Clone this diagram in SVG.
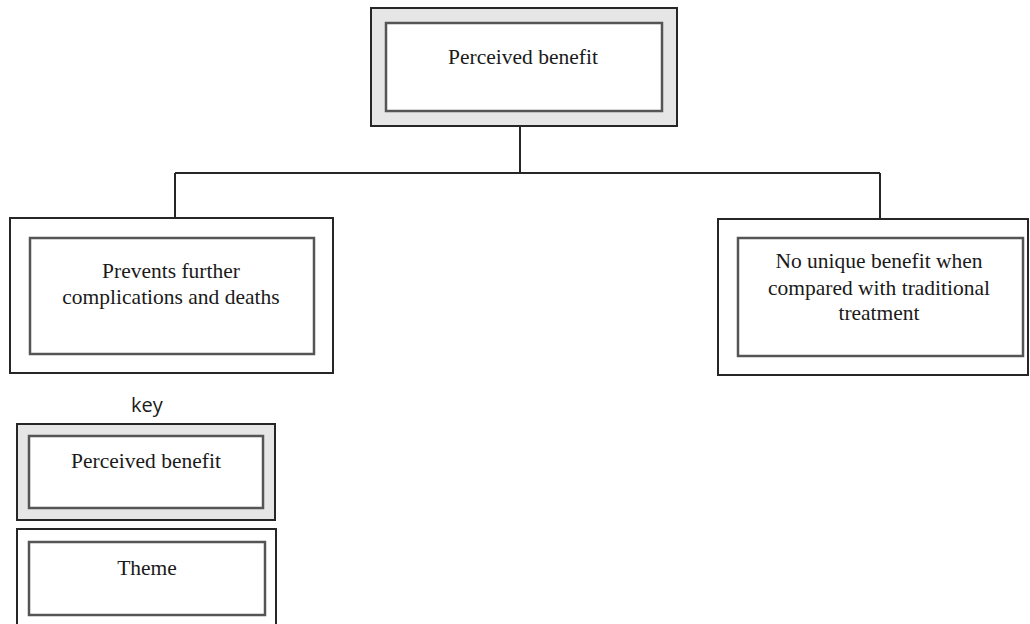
<svg xmlns="http://www.w3.org/2000/svg" width="1030" height="624" viewBox="0 0 1030 624">
<style>
.outer{fill:#ffffff;stroke:#262626;stroke-width:2}
.outer.pb{fill:#e6e6e6}
.inner{fill:#ffffff;stroke:#555555;stroke-width:2.5}
.t{font-family:"Liberation Serif","Times New Roman",serif;font-size:21.5px;fill:#1a1a1a;text-anchor:middle}
.k{font-family:"Open Sans","Liberation Sans",sans-serif;font-size:20px;fill:#1a1a1a;text-anchor:middle}
.c{fill:none;stroke:#262626;stroke-width:2}
</style>
<rect width="1030" height="624" fill="#ffffff"/>
<g id="connectors">
<path class="c" d="M520,126 V173 M175,173 H880 M175,173 V218 M880,173 V219"/>
</g>
<g id="perceived-benefit">
<rect class="outer pb" x="371" y="8" width="306" height="118"/>
<rect class="inner" x="386" y="23" width="276" height="88"/>
<text class="t" x="523" y="64">Perceived benefit</text>
</g>
<g id="theme-prevents">
<rect class="outer" x="10" y="218" width="323" height="155"/>
<rect class="inner" x="30" y="238" width="284" height="116"/>
<text class="t" x="171" y="278">Prevents further</text>
<text class="t" x="171" y="304">complications and deaths</text>
</g>
<g id="theme-no-unique">
<rect class="outer" x="718" y="219" width="310" height="156"/>
<rect class="inner" x="738" y="238" width="285" height="118"/>
<text class="t" x="879" y="268">No unique benefit when</text>
<text class="t" x="879" y="295">compared with traditional</text>
<text class="t" x="879" y="320">treatment</text>
</g>
<g id="key">
<text class="k" x="147" y="412">key</text>
<g id="key-perceived-benefit">
<rect class="outer pb" x="17" y="424" width="258" height="96"/>
<rect class="inner" x="29" y="436" width="234" height="72"/>
<text class="t" x="146" y="468">Perceived benefit</text>
</g>
<g id="key-theme">
<rect class="outer" x="17" y="529" width="259" height="100"/>
<rect class="inner" x="29" y="542" width="236" height="73"/>
<text class="t" x="147" y="575">Theme</text>
</g>
</g>
</svg>
